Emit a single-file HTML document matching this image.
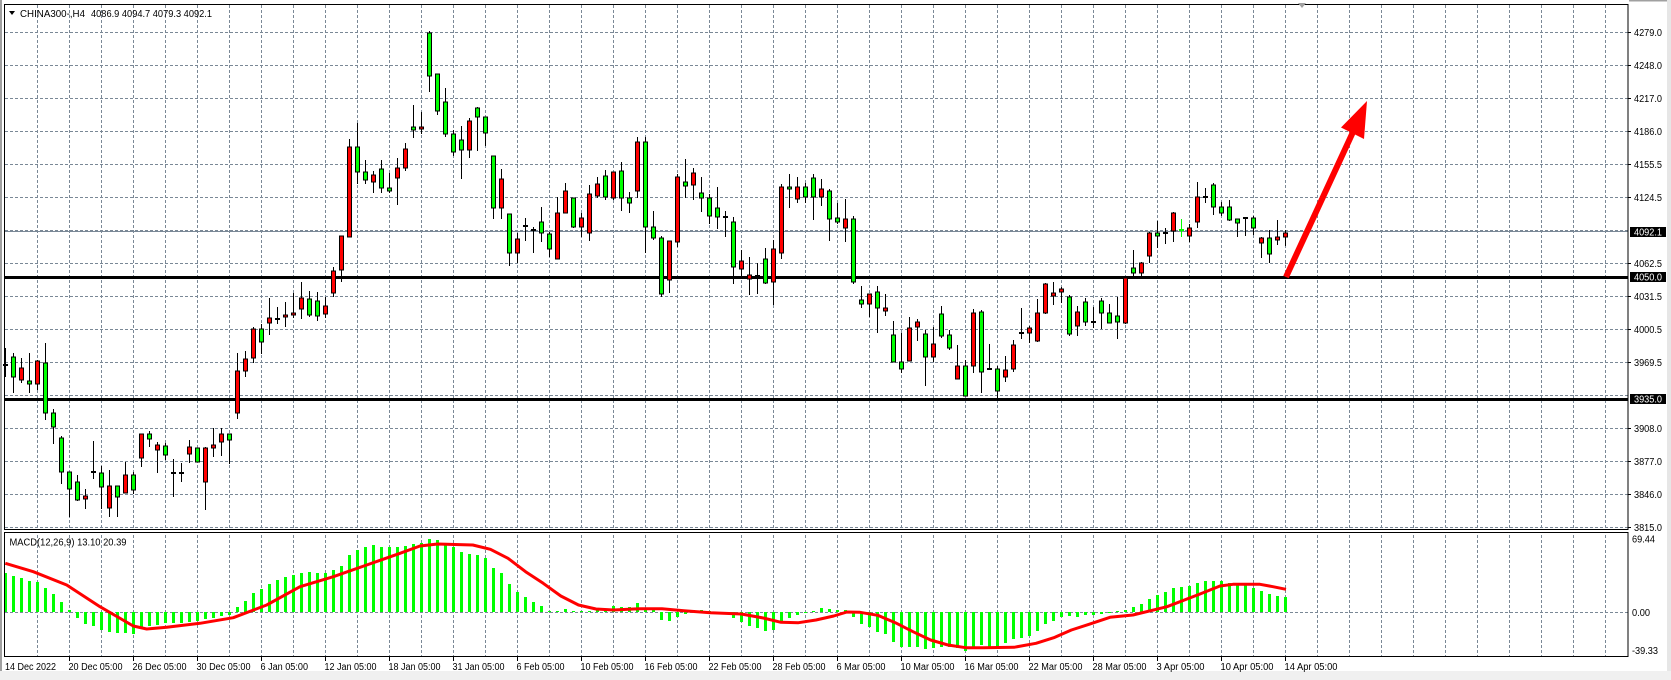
<!DOCTYPE html>
<html><head><meta charset="utf-8"><style>
html,body{margin:0;padding:0;background:#fff;}
svg{display:block;}
text{font-family:"Liberation Sans",Arial,sans-serif;font-size:10px;fill:#000;}
</style></head><body>
<svg width="1671" height="680" viewBox="0 0 1671 680" xmlns="http://www.w3.org/2000/svg">
<defs>
<pattern id="vg" x="37" y="5" width="32" height="5" patternUnits="userSpaceOnUse"><rect x="0" y="0" width="1" height="3" fill="#7a8896"/></pattern>
<pattern id="hg" x="5" y="32" width="5" height="33" patternUnits="userSpaceOnUse"><rect x="0" y="0" width="3" height="1" fill="#7a8896"/></pattern>
<pattern id="zg" x="5" y="612" width="5" height="10" patternUnits="userSpaceOnUse"><rect x="0" y="0" width="3" height="1" fill="#7a8896"/></pattern>
</defs>
<rect x="0" y="0" width="1671" height="680" fill="#fff"/>
<!-- grid main -->
<rect x="37" y="5" width="1580" height="524" fill="url(#vg)"/>
<rect x="5" y="32" width="1623" height="497" fill="url(#hg)"/>
<!-- grid macd -->
<rect x="37" y="533" width="1580" height="123" fill="url(#vg)"/>
<rect x="5" y="612" width="1623" height="1" fill="url(#zg)"/>
<!-- current price line -->
<path d="M5 231.5H1628" stroke="#7a8896" stroke-width="1"/>
<!-- support/resistance -->
<path d="M5 277.5H1628M5 399.5H1628" stroke="#000" stroke-width="3"/>
<!-- wicks -->
<path fill="none" stroke="#000" stroke-width="1" d="M5.5 348V377M13.5 353V393M21.5 358V383M29.5 353V393M37.5 360V390M45.5 343V420M53.5 409V444M61.5 436V484M69.5 472V517M77.5 475V501M85.5 489V509M93.5 441V479M101.5 466V509M109.5 470V517M117.5 486V517M125.5 462V493M133.5 472V494M141.5 434V467M149.5 431V447M157.5 442V473M165.5 443V460M173.5 459V497M181.5 463V482M189.5 440V463M197.5 448V462M205.5 447V510M213.5 428V457M221.5 428V456M229.5 434V464M237.5 353V419M245.5 351V377M253.5 327V363M261.5 324V354M269.5 298V335M277.5 307V324M285.5 302V327M293.5 293V318M301.5 282V319M309.5 291V317M317.5 292V321M325.5 297V318M333.5 267V297M341.5 236V282M349.5 139V237M357.5 123V184M365.5 160V184M373.5 171V193M381.5 160V193M389.5 173V193M397.5 158V205M405.5 143V171M413.5 105V138M421.5 112V134M429.5 31V92M437.5 74V115M445.5 88V137M453.5 130V156M461.5 126V179M469.5 118V158M477.5 107V151M485.5 117V146M493.5 156V219M501.5 169V219M509.5 214V266M517.5 233V263M525.5 218V241M533.5 227V253M541.5 207V242M549.5 232V257M557.5 197V259M565.5 183V213M573.5 198V228M581.5 213V237M589.5 185V241M597.5 177V198M605.5 170V200M613.5 172V200M621.5 162V211M629.5 192V213M637.5 137V198M645.5 137V253M653.5 211V240M661.5 236V297M669.5 241V293M677.5 174V247M685.5 159V198M693.5 168V200M701.5 177V212M709.5 194V224M717.5 187V229M725.5 211V237M733.5 217V284M741.5 250V277M749.5 257V295M757.5 263V294M765.5 248V284M773.5 240V305M781.5 184V259M789.5 174V208M797.5 177V203M805.5 183V203M813.5 174V220M821.5 179V206M829.5 189V241M837.5 203V224M845.5 199V242M853.5 216V284M861.5 286V308M869.5 294V317M877.5 286V333M885.5 294V316M893.5 321V362M901.5 333V373M909.5 317V361M917.5 319V341M925.5 330V386M933.5 327V362M941.5 306V338M949.5 330V350M957.5 345V379M965.5 360V396M973.5 309V373M981.5 310V393M989.5 344V370M997.5 366V398M1005.5 356V382M1013.5 340V372M1021.5 308V339M1029.5 326V343M1037.5 299V342M1045.5 283V314M1053.5 282V305M1061.5 287V303M1069.5 295V336M1077.5 306V336M1085.5 298V326M1093.5 307V328M1101.5 298V329M1109.5 304V323M1117.5 297V339M1125.5 276V324M1133.5 250V276M1141.5 262V276M1149.5 232V263M1157.5 221V248M1165.5 228V244M1173.5 212V242M1189.5 224V242M1197.5 182V228M1205.5 188V203M1213.5 183V215M1221.5 202V216M1229.5 200V221M1237.5 219V237M1245.5 218V236M1253.5 216V235M1261.5 237V258M1269.5 230V263M1277.5 220V245M1285.5 230V246"/>
<path fill="none" stroke="#00ff00" stroke-width="1" d="M1181.5 219V237"/>
<path fill="none" stroke="#00ff00" stroke-width="2" d="M1179 230h5"/>
<!-- dojis -->
<path fill="none" stroke="#000" stroke-width="2" d="M3 365h5M91 472h5M171 473h5M179 473h5M275 319h5M523 226h5M531 230h5M723 217h5M755 276h5M987 369h5M1019 333h5M1091 322h5M1163 233h5M1203 197h5M1243 218h5"/>
<!-- green bodies -->
<path fill="#00ff00" stroke="#000" stroke-width="1" d="M11.5 357h4V377h-4ZM27.5 381h4V384h-4ZM43.5 363h4V413h-4ZM51.5 413h4V427h-4ZM59.5 438h4V472h-4ZM67.5 472h4V489h-4ZM75.5 482h4V500h-4ZM99.5 473h4V487h-4ZM115.5 486h4V497h-4ZM131.5 475h4V490h-4ZM147.5 434h4V439h-4ZM163.5 446h4V455h-4ZM195.5 448h4V462h-4ZM227.5 434h4V440h-4ZM259.5 329h4V342h-4ZM307.5 299h4V315h-4ZM315.5 301h4V316h-4ZM355.5 147h4V172h-4ZM363.5 172h4V180h-4ZM379.5 169h4V188h-4ZM387.5 188h4V191h-4ZM411.5 127h4V130h-4ZM427.5 33h4V76h-4ZM435.5 74h4V111h-4ZM443.5 102h4V134h-4ZM451.5 134h4V152h-4ZM459.5 140h4V150h-4ZM475.5 108h4V117h-4ZM483.5 117h4V133h-4ZM491.5 156h4V208h-4ZM507.5 214h4V253h-4ZM539.5 222h4V233h-4ZM547.5 234h4V249h-4ZM571.5 198h4V227h-4ZM603.5 176h4V197h-4ZM619.5 171h4V198h-4ZM627.5 198h4V203h-4ZM643.5 142h4V227h-4ZM651.5 227h4V238h-4ZM659.5 238h4V294h-4ZM683.5 182h4V186h-4ZM699.5 193h4V198h-4ZM707.5 198h4V216h-4ZM715.5 208h4V217h-4ZM731.5 222h4V267h-4ZM763.5 259h4V283h-4ZM787.5 187h4V189h-4ZM803.5 187h4V197h-4ZM811.5 178h4V197h-4ZM827.5 191h4V219h-4ZM835.5 218h4V222h-4ZM851.5 219h4V282h-4ZM859.5 300h4V304h-4ZM875.5 292h4V308h-4ZM891.5 335h4V362h-4ZM899.5 362h4V369h-4ZM923.5 334h4V357h-4ZM939.5 314h4V336h-4ZM947.5 335h4V348h-4ZM963.5 366h4V396h-4ZM979.5 312h4V372h-4ZM995.5 369h4V391h-4ZM1067.5 297h4V334h-4ZM1083.5 302h4V322h-4ZM1099.5 301h4V313h-4ZM1107.5 313h4V323h-4ZM1115.5 316h4V322h-4ZM1131.5 268h4V273h-4ZM1155.5 233h4V236h-4ZM1211.5 185h4V207h-4ZM1219.5 207h4V213h-4ZM1227.5 207h4V220h-4ZM1235.5 219h4V223h-4ZM1251.5 218h4V228h-4ZM1267.5 238h4V254h-4Z"/>
<!-- red bodies -->
<path fill="#ff0000" stroke="#000" stroke-width="1" d="M19.5 368h4V380h-4ZM35.5 361h4V384h-4ZM83.5 496h4V499h-4ZM107.5 486h4V508h-4ZM123.5 475h4V493h-4ZM139.5 434h4V458h-4ZM155.5 445h4V450h-4ZM187.5 447h4V454h-4ZM203.5 448h4V482h-4ZM211.5 445h4V448h-4ZM219.5 434h4V442h-4ZM235.5 371h4V413h-4ZM243.5 359h4V371h-4ZM251.5 329h4V358h-4ZM267.5 318h4V323h-4ZM283.5 315h4V317h-4ZM291.5 313h4V315h-4ZM299.5 298h4V309h-4ZM323.5 306h4V314h-4ZM331.5 271h4V293h-4ZM339.5 236h4V270h-4ZM347.5 147h4V237h-4ZM371.5 175h4V182h-4ZM395.5 168h4V178h-4ZM403.5 149h4V168h-4ZM419.5 127h4V129h-4ZM467.5 121h4V150h-4ZM499.5 179h4V208h-4ZM515.5 239h4V253h-4ZM555.5 213h4V259h-4ZM563.5 191h4V213h-4ZM579.5 218h4V227h-4ZM587.5 194h4V233h-4ZM595.5 184h4V196h-4ZM611.5 172h4V198h-4ZM635.5 142h4V191h-4ZM667.5 241h4V280h-4ZM675.5 177h4V242h-4ZM691.5 173h4V185h-4ZM739.5 261h4V269h-4ZM747.5 275h4V279h-4ZM771.5 249h4V282h-4ZM779.5 187h4V253h-4ZM795.5 187h4V199h-4ZM819.5 189h4V197h-4ZM843.5 219h4V228h-4ZM867.5 294h4V304h-4ZM883.5 308h4V311h-4ZM907.5 328h4V361h-4ZM915.5 322h4V327h-4ZM931.5 344h4V357h-4ZM955.5 366h4V379h-4ZM971.5 313h4V366h-4ZM1003.5 370h4V377h-4ZM1011.5 345h4V369h-4ZM1027.5 328h4V333h-4ZM1035.5 313h4V341h-4ZM1043.5 284h4V313h-4ZM1051.5 293h4V296h-4ZM1059.5 289h4V292h-4ZM1075.5 312h4V326h-4ZM1123.5 278h4V323h-4ZM1139.5 263h4V273h-4ZM1147.5 233h4V256h-4ZM1171.5 213h4V231h-4ZM1187.5 228h4V236h-4ZM1195.5 197h4V222h-4ZM1259.5 238h4V243h-4ZM1275.5 237h4V240h-4ZM1283.5 233h4V237h-4Z"/>
<!-- arrow -->
<line x1="1286" y1="277" x2="1353" y2="132" stroke="#ff0000" stroke-width="6"/>
<polygon points="1367,101 1341,127.5 1364,139" fill="#ff0000"/>
<!-- MACD histogram -->
<path fill="none" stroke="#00ff00" stroke-width="3" d="M5.5 612V573M13.5 612V576M21.5 612V578M29.5 612V581M37.5 612V582M45.5 612V588M53.5 612V594M61.5 612V602M69.5 612V610M77.5 612V618M85.5 612V624M93.5 612V626M101.5 612V630M109.5 612V632M117.5 612V633M125.5 612V633M133.5 612V634M141.5 612V628M149.5 612V626M157.5 612V625M165.5 612V623M173.5 612V623M181.5 612V623M189.5 612V622M197.5 612V621M205.5 612V619M213.5 612V618M221.5 612V616M229.5 612V615M237.5 612V607M245.5 612V601M253.5 612V593M261.5 612V589M269.5 612V584M277.5 612V580M285.5 612V577M293.5 612V575M301.5 612V573M309.5 612V572M317.5 612V573M325.5 612V573M333.5 612V570M341.5 612V566M349.5 612V555M357.5 612V550M365.5 612V547M373.5 612V545M381.5 612V547M389.5 612V547M397.5 612V547M405.5 612V546M413.5 612V544M421.5 612V543M429.5 612V539M437.5 612V540M445.5 612V545M453.5 612V547M461.5 612V552M469.5 612V554M477.5 612V555M485.5 612V558M493.5 612V568M501.5 612V573M509.5 612V584M517.5 612V592M525.5 612V597M533.5 612V602M541.5 612V606M549.5 612V611M557.5 612V611M565.5 612V609M573.5 612V611M581.5 612V611M589.5 612V611M597.5 612V610M605.5 612V609M613.5 612V606M621.5 612V607M629.5 612V607M637.5 612V603M645.5 612V609M653.5 612V610M661.5 612V620M669.5 612V621M677.5 612V617M685.5 612V614M693.5 612V610M701.5 612V610M709.5 612V611M717.5 612V614M725.5 612V614M733.5 612V618M741.5 612V622M749.5 612V626M757.5 612V628M765.5 612V631M773.5 612V630M781.5 612V621M789.5 612V618M797.5 612V615M805.5 612V613M813.5 612V611M821.5 612V608M829.5 612V609M837.5 612V610M845.5 612V610M853.5 612V617M861.5 612V624M869.5 612V627M877.5 612V632M885.5 612V634M893.5 612V642M901.5 612V647M909.5 612V647M917.5 612V647M925.5 612V649M933.5 612V648M941.5 612V647M949.5 612V647M957.5 612V648M965.5 612V651M973.5 612V647M981.5 612V645M989.5 612V647M997.5 612V647M1005.5 612V643M1013.5 612V639M1021.5 612V638M1029.5 612V636M1037.5 612V631M1045.5 612V624M1053.5 612V621M1061.5 612V617M1069.5 612V616M1077.5 612V617M1085.5 612V615M1093.5 612V615M1101.5 612V614M1109.5 612V613M1117.5 612V611M1125.5 612V610M1133.5 612V607M1141.5 612V604M1149.5 612V599M1157.5 612V595M1165.5 612V592M1173.5 612V588M1181.5 612V587M1189.5 612V586M1197.5 612V583M1205.5 612V581M1213.5 612V581M1221.5 612V581M1229.5 612V583M1237.5 612V585M1245.5 612V585M1253.5 612V588M1261.5 612V591M1269.5 612V594M1277.5 612V596M1285.5 612V597"/>
<!-- MACD signal -->
<polyline fill="none" stroke="#ff0000" stroke-width="3" stroke-linejoin="round" points="5.3,563.3 33.3,571.7 66.7,585 100,606.7 133.3,626 146.7,629 166.7,627.3 200,623.3 233.3,617.7 266.7,605 300,586.7 333.3,576.7 366.7,565 400,553.3 420,546 437.6,544 472.8,545 490.4,549.3 508,558.3 525.6,571.7 543.2,583.3 560.8,596 578.5,605 596,609 613.7,610 640,608.7 662,608.7 684,610.7 710.5,612.7 741.3,614 763.3,618 781,622.3 798.5,622.7 816,620 833.7,616 847,612 860,612.3 877.7,615.3 895.3,622.7 913,631.7 930.6,640 948,645 965.8,647.7 983.4,647.7 1014,647.3 1036,643.3 1053.8,637.7 1071.4,630 1089,624.3 1110,617.3 1133,615 1167,606.7 1200,594 1220,586 1233,584.3 1260,584.3 1273,586.7 1286,589.3"/>
<!-- frames -->
<rect x="4.5" y="4.5" width="1623.5" height="525" fill="none" stroke="#000" stroke-width="1"/>
<rect x="4.5" y="532.5" width="1623.5" height="124" fill="none" stroke="#000" stroke-width="1"/>
<rect x="0" y="0" width="2" height="680" fill="#a0a0a0"/>
<rect x="1667" y="0" width="4" height="680" fill="#e6e6e6"/>
<rect x="1629" y="0" width="38" height="1.5" fill="#a0a0a0"/>
<rect x="0" y="671" width="1671" height="9" fill="#f0f0f0"/>
<polygon points="1298,3 1306,3 1302,8" fill="#a0a0a0"/>
<!-- title -->
<polygon points="9,11 15,11 12,15" fill="#000"/>
<text x="20" y="17" textLength="65" lengthAdjust="spacingAndGlyphs">CHINA300-,H4</text>
<text x="91" y="17" textLength="121" lengthAdjust="spacingAndGlyphs">4086.9 4094.7 4079.3 4092.1</text>
<text x="9.5" y="545.5" textLength="117" lengthAdjust="spacingAndGlyphs">MACD(12,26,9) 13.10 20.39</text>
<!-- right axis ticks -->
<path stroke="#000" stroke-width="1" d="M1628 32.5h3M1628 65.5h3M1628 98.5h3M1628 131.5h3M1628 164.5h3M1628 197.5h3M1628 263.5h3M1628 296.5h3M1628 329.5h3M1628 362.5h3M1628 428.5h3M1628 461.5h3M1628 494.5h3M1628 527.5h3"/>
<g>
<text x="1634" y="36" textLength="28" lengthAdjust="spacingAndGlyphs">4279.0</text>
<text x="1634" y="69" textLength="28" lengthAdjust="spacingAndGlyphs">4248.0</text>
<text x="1634" y="102" textLength="28" lengthAdjust="spacingAndGlyphs">4217.0</text>
<text x="1634" y="135" textLength="28" lengthAdjust="spacingAndGlyphs">4186.0</text>
<text x="1634" y="168" textLength="28" lengthAdjust="spacingAndGlyphs">4155.5</text>
<text x="1634" y="201" textLength="28" lengthAdjust="spacingAndGlyphs">4124.5</text>
<text x="1634" y="267" textLength="28" lengthAdjust="spacingAndGlyphs">4062.5</text>
<text x="1634" y="300" textLength="28" lengthAdjust="spacingAndGlyphs">4031.5</text>
<text x="1634" y="333" textLength="28" lengthAdjust="spacingAndGlyphs">4000.5</text>
<text x="1634" y="366" textLength="28" lengthAdjust="spacingAndGlyphs">3969.5</text>
<text x="1634" y="432" textLength="28" lengthAdjust="spacingAndGlyphs">3908.0</text>
<text x="1634" y="465" textLength="28" lengthAdjust="spacingAndGlyphs">3877.0</text>
<text x="1634" y="498" textLength="28" lengthAdjust="spacingAndGlyphs">3846.0</text>
<text x="1634" y="531" textLength="28" lengthAdjust="spacingAndGlyphs">3815.0</text>
</g>
<rect x="1630" y="227" width="36" height="10" fill="#000"/>
<text x="1634" y="235.5" textLength="28" lengthAdjust="spacingAndGlyphs" style="fill:#fff">4092.1</text>
<rect x="1630" y="272" width="36" height="10" fill="#000"/>
<text x="1634" y="280.5" textLength="28" lengthAdjust="spacingAndGlyphs" style="fill:#fff">4050.0</text>
<rect x="1630" y="394" width="36" height="10" fill="#000"/>
<text x="1634" y="402.5" textLength="28" lengthAdjust="spacingAndGlyphs" style="fill:#fff">3935.0</text>
<!-- MACD axis -->
<text x="1632" y="542.5" textLength="23" lengthAdjust="spacingAndGlyphs">69.44</text>
<text x="1632" y="616" textLength="18" lengthAdjust="spacingAndGlyphs">0.00</text>
<text x="1632" y="654" textLength="26" lengthAdjust="spacingAndGlyphs">-39.33</text>
<!-- x axis ticks -->
<path stroke="#000" stroke-width="1" d="M69.5 657v4M133.5 657v4M197.5 657v4M261.5 657v4M325.5 657v4M389.5 657v4M453.5 657v4M517.5 657v4M581.5 657v4M645.5 657v4M709.5 657v4M773.5 657v4M837.5 657v4M901.5 657v4M965.5 657v4M1029.5 657v4M1093.5 657v4M1157.5 657v4M1221.5 657v4M1285.5 657v4"/>
<g>
<text x="5" y="670" textLength="51" lengthAdjust="spacingAndGlyphs">14 Dec 2022</text>
<text x="68.5" y="670" textLength="54" lengthAdjust="spacingAndGlyphs">20 Dec 05:00</text>
<text x="132.5" y="670" textLength="54" lengthAdjust="spacingAndGlyphs">26 Dec 05:00</text>
<text x="196.5" y="670" textLength="54" lengthAdjust="spacingAndGlyphs">30 Dec 05:00</text>
<text x="260.5" y="670" textLength="47.5" lengthAdjust="spacingAndGlyphs">6 Jan 05:00</text>
<text x="324.5" y="670" textLength="52" lengthAdjust="spacingAndGlyphs">12 Jan 05:00</text>
<text x="388.5" y="670" textLength="52" lengthAdjust="spacingAndGlyphs">18 Jan 05:00</text>
<text x="452.5" y="670" textLength="52" lengthAdjust="spacingAndGlyphs">31 Jan 05:00</text>
<text x="516.5" y="670" textLength="48" lengthAdjust="spacingAndGlyphs">6 Feb 05:00</text>
<text x="580.5" y="670" textLength="53" lengthAdjust="spacingAndGlyphs">10 Feb 05:00</text>
<text x="644.5" y="670" textLength="53" lengthAdjust="spacingAndGlyphs">16 Feb 05:00</text>
<text x="708.5" y="670" textLength="53" lengthAdjust="spacingAndGlyphs">22 Feb 05:00</text>
<text x="772.5" y="670" textLength="53" lengthAdjust="spacingAndGlyphs">28 Feb 05:00</text>
<text x="836.5" y="670" textLength="49" lengthAdjust="spacingAndGlyphs">6 Mar 05:00</text>
<text x="900.5" y="670" textLength="54" lengthAdjust="spacingAndGlyphs">10 Mar 05:00</text>
<text x="964.5" y="670" textLength="54" lengthAdjust="spacingAndGlyphs">16 Mar 05:00</text>
<text x="1028.5" y="670" textLength="54" lengthAdjust="spacingAndGlyphs">22 Mar 05:00</text>
<text x="1092.5" y="670" textLength="54" lengthAdjust="spacingAndGlyphs">28 Mar 05:00</text>
<text x="1156.5" y="670" textLength="48" lengthAdjust="spacingAndGlyphs">3 Apr 05:00</text>
<text x="1220.5" y="670" textLength="53" lengthAdjust="spacingAndGlyphs">10 Apr 05:00</text>
<text x="1284.5" y="670" textLength="53" lengthAdjust="spacingAndGlyphs">14 Apr 05:00</text>
</g>
</svg>
</body></html>
